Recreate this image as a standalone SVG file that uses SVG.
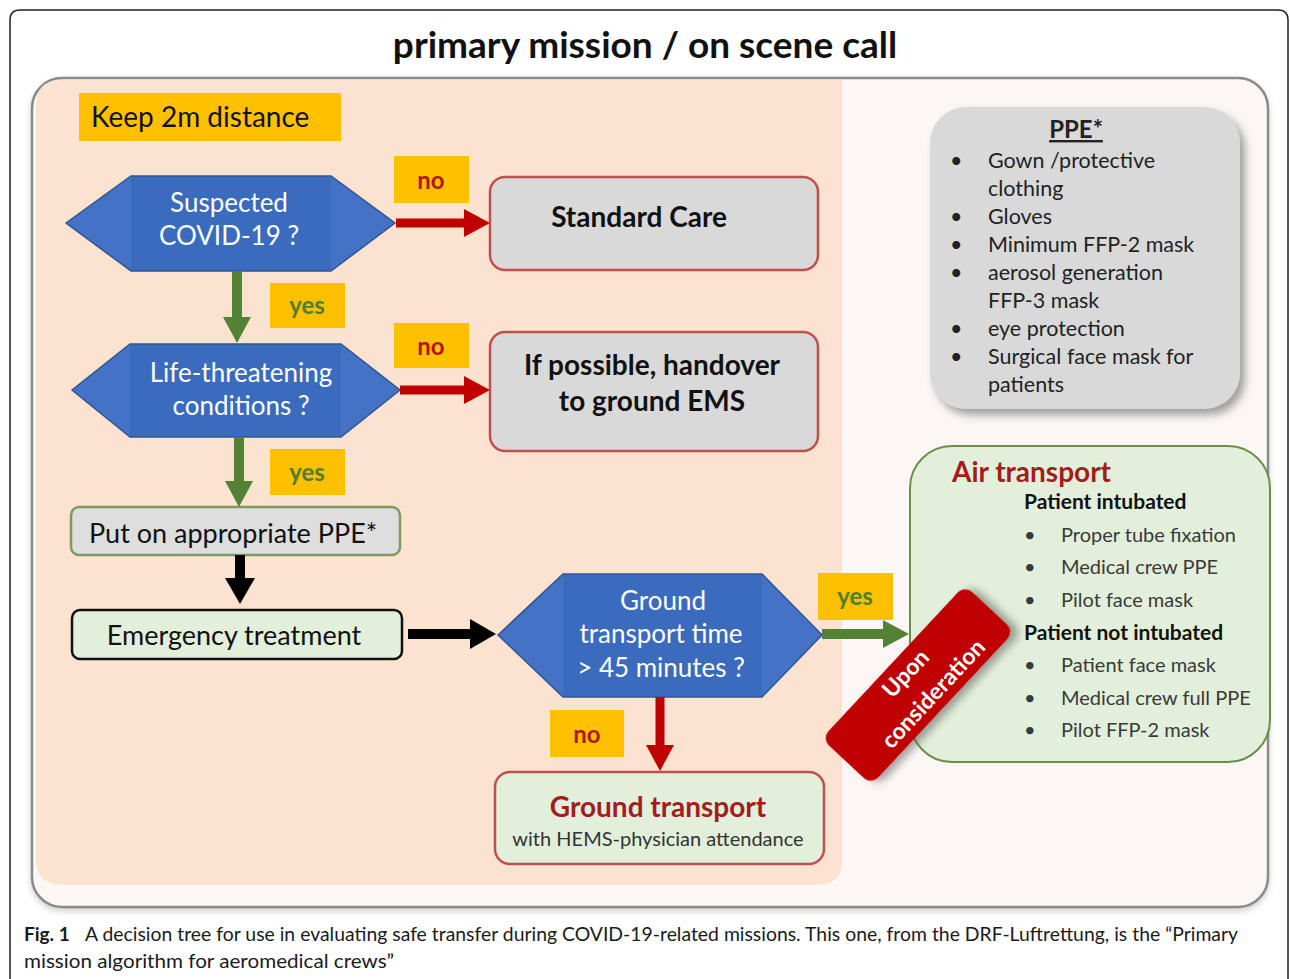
<svg xmlns="http://www.w3.org/2000/svg" width="1290" height="979" viewBox="0 0 1290 979">
<style>
text{font-family:Lato,"Open Sans","Liberation Sans",sans-serif}
.hex{fill:#4472c4;stroke:#2f5597;stroke-width:1.5}
.hexin{fill:#3a6bbd}
.ht{fill:#fff;font-size:26px;text-anchor:middle}
.lab{fill:#ffc000}
.no{fill:#b01818;font-size:24px;font-weight:bold;text-anchor:middle}
.yes{fill:#4f7f2a;font-size:24px;font-weight:bold;text-anchor:middle}
.gray{fill:#d9d9d9;stroke:#c0504d;stroke-width:2.5}
.bt{fill:#111;font-size:28px;font-weight:bold;text-anchor:middle}
.ppe{fill:#222;font-size:21.5px}
.air{fill:#3a3a3a;font-size:20px}
.airb{fill:#111;font-size:21px;font-weight:bold}
.red{stroke:#c00000;stroke-width:9;fill:none}
.grn{stroke:#548235;stroke-width:10;fill:none}
.blk{stroke:#000;stroke-width:10;fill:none}
</style>
<defs>
<marker id="ar" viewBox="0 0 26 28" refX="4" refY="14" markerWidth="26" markerHeight="28" markerUnits="userSpaceOnUse" orient="auto"><path d="M0,0 L26,14 L0,28 z" fill="#c00000"/></marker>
<marker id="ag" viewBox="0 0 26 28" refX="4" refY="14" markerWidth="26" markerHeight="28" markerUnits="userSpaceOnUse" orient="auto"><path d="M0,0 L26,14 L0,28 z" fill="#548235"/></marker>
<marker id="ab" viewBox="0 0 26 30" refX="4" refY="15" markerWidth="26" markerHeight="30" markerUnits="userSpaceOnUse" orient="auto"><path d="M0,0 L26,15 L0,30 z" fill="#000"/></marker>
<filter id="sh" x="-20%" y="-20%" width="140%" height="140%"><feDropShadow dx="5" dy="6" stdDeviation="4" flood-color="#555" flood-opacity="0.55"/></filter>
<filter id="sh2" x="-10%" y="-10%" width="120%" height="120%"><feDropShadow dx="0" dy="3" stdDeviation="3" flood-color="#888" flood-opacity="0.4"/></filter>
</defs>

<rect width="1290" height="979" fill="#fff"/>
<path d="M10,979 L10,20 Q10,10 20,10 L1278,10 Q1288,10 1288,20 L1288,979" fill="none" stroke="#222" stroke-width="1.5"/>

<text x="645" y="58" font-size="37" font-weight="bold" text-anchor="middle" fill="#111">primary mission / on scene call</text>

<g id="background">
<rect x="32" y="78" width="1236" height="829" rx="30" fill="#fcf7f5" stroke="#8a8a8a" stroke-width="2.5" filter="url(#sh2)"/>
<path d="M62,80 L842,80 L842,860 Q842,885 817,885 L63,885 Q36,885 36,858 L36,106 Q36,80 62,80 z" fill="#fce3cf"/>
</g>

<g id="n-keep">
<rect x="79" y="93" width="262" height="48" fill="#ffc000"/>
<text x="91" y="127" font-size="28" fill="#111">Keep 2m distance</text>
</g>

<g id="n-suspected">
<polygon class="hex" points="66,223 131,176 331,176 395,223 331,271 131,271"/>
<rect class="hexin" x="131" y="177" width="200" height="93"/>
<text class="ht" x="229" y="212">Suspected</text>
<text class="ht" x="229" y="245">COVID-19 ?</text>
</g>

<g id="n-standard">
<rect class="gray" x="490" y="177" width="328" height="93" rx="15"/>
<text class="bt" x="639" y="227">Standard Care</text>
</g>

<g id="n-life">
<polygon class="hex" points="72,390 130,344 341,344 400,390 341,437 130,437"/>
<rect class="hexin" x="130" y="345" width="211" height="91"/>
<text class="ht" x="241" y="382">Life-threatening</text>
<text class="ht" x="241" y="415">conditions ?</text>
</g>

<g id="n-handover">
<rect class="gray" x="490" y="332" width="328" height="119" rx="15"/>
<text class="bt" x="652" y="375">If possible, handover</text>
<text class="bt" x="652" y="411">to ground EMS</text>
</g>

<g id="n-put-ppe">
<rect x="71" y="507" width="329" height="48" rx="8" fill="#dedede" stroke="#7e9a62" stroke-width="2.5"/>
<text x="89" y="543" font-size="27" fill="#111">Put on appropriate  PPE*</text>
</g>

<g id="n-emergency">
<rect x="72" y="610" width="330" height="49" rx="8" fill="#e2efda" stroke="#111" stroke-width="2.5"/>
<text x="234" y="645" font-size="27" fill="#111" text-anchor="middle">Emergency  treatment</text>
</g>

<g id="n-ground-q">
<polygon class="hex" points="498,635 563,574 762,574 822,635 762,697 563,697"/>
<rect class="hexin" x="563" y="575" width="199" height="121"/>
<text class="ht" x="663" y="610">Ground</text>
<text class="ht" x="661" y="643">transport time</text>
<text class="ht" x="661" y="677">&gt; 45 minutes ?</text>
</g>

<g id="n-ground">
<rect x="495" y="772" width="329" height="92" rx="15" fill="#e2efda" stroke="#c0504d" stroke-width="2.5"/>
<text x="658" y="817" font-size="28" font-weight="bold" fill="#a51c1c" text-anchor="middle">Ground transport</text>
<text x="658" y="846" font-size="20" fill="#333" text-anchor="middle">with HEMS-physician attendance</text>
</g>

<g id="n-ppe-list">
<rect x="930" y="107" width="310" height="302" rx="36" fill="#d9d9d9" filter="url(#sh)"/>
<text x="1076" y="138" font-size="24" font-weight="bold" fill="#222" text-anchor="middle" text-decoration="underline">PPE*</text>
<g class="ppe">
<text x="950" y="168">•</text><text x="988" y="168">Gown /protective</text>
<text x="988" y="196">clothing</text>
<text x="950" y="224">•</text><text x="988" y="224">Gloves</text>
<text x="950" y="252">•</text><text x="988" y="252">Minimum FFP-2 mask</text>
<text x="950" y="280">•</text><text x="988" y="280">aerosol generation</text>
<text x="988" y="308">FFP-3 mask</text>
<text x="950" y="336">•</text><text x="988" y="336">eye protection</text>
<text x="950" y="364">•</text><text x="988" y="364">Surgical face mask for</text>
<text x="988" y="392">patients</text>
</g>
</g>

<g id="n-air">
<rect x="910" y="446" width="360" height="316" rx="42" fill="#e2efda" stroke="#6a8f4a" stroke-width="2"/>
<text x="952" y="482" font-size="28" font-weight="bold" fill="#a51c1c">Air transport</text>
<text class="airb" x="1024" y="509">Patient intubated</text>
<g class="air">
<text x="1024" y="542">•</text><text x="1061" y="542">Proper  tube fixation</text>
<text x="1024" y="574">•</text><text x="1061" y="574">Medical  crew   PPE</text>
<text x="1024" y="607">•</text><text x="1061" y="607">Pilot face mask</text>
</g>
<text class="airb" x="1024" y="640">Patient not intubated</text>
<g class="air">
<text x="1024" y="672">•</text><text x="1061" y="672">Patient face mask</text>
<text x="1024" y="705">•</text><text x="1061" y="705">Medical  crew full PPE</text>
<text x="1024" y="737">•</text><text x="1061" y="737">Pilot FFP-2 mask</text>
</g>
</g>

<g id="n-upon" transform="translate(918,685) rotate(-47)">
<rect x="-105" y="-34" width="210" height="68" rx="10" fill="#c00000" filter="url(#sh)"/>
<text x="0" y="-9" font-size="23" font-weight="bold" fill="#fff" text-anchor="middle">Upon</text>
<text x="4" y="25" font-size="23" font-weight="bold" fill="#fff" text-anchor="middle">consideration</text>
</g>

<g id="connectors">
<line class="red" x1="396" y1="223" x2="468" y2="223" marker-end="url(#ar)"/>
<line class="red" x1="400" y1="390" x2="468" y2="390" marker-end="url(#ar)"/>
<line class="grn" x1="237" y1="271" x2="237" y2="321" marker-end="url(#ag)"/>
<line class="grn" x1="239" y1="437" x2="239" y2="485" marker-end="url(#ag)"/>
<line class="blk" x1="240" y1="555" x2="240" y2="582" marker-end="url(#ab)"/>
<line class="blk" x1="408" y1="634" x2="474" y2="634" marker-end="url(#ab)"/>
<line class="grn" x1="822" y1="634" x2="887" y2="634" marker-end="url(#ag)"/>
<line class="red" x1="660" y1="697" x2="660" y2="749" marker-end="url(#ar)"/>
<g id="labels">
<rect class="lab" x="394" y="156" width="75" height="47"/><text class="no" x="431" y="189">no</text>
<rect class="lab" x="270" y="283" width="75" height="45"/><text class="yes" x="307" y="314">yes</text>
<rect class="lab" x="394" y="323" width="75" height="45"/><text class="no" x="431" y="355">no</text>
<rect class="lab" x="270" y="449" width="75" height="46"/><text class="yes" x="307" y="481">yes</text>
<rect class="lab" x="818" y="573" width="75" height="47"/><text class="yes" x="855" y="605">yes</text>
<rect class="lab" x="550" y="710" width="74" height="47"/><text class="no" x="587" y="743">no</text>
</g>
</g>

<g id="caption">
<text x="24" y="941" font-family="'Open Sans',sans-serif" font-size="19" font-weight="bold" fill="#1a1a1a">Fig. 1</text>
<text x="85" y="941" font-family="'Open Sans',sans-serif" font-size="19" fill="#1a1a1a" textLength="1153" lengthAdjust="spacingAndGlyphs">A decision tree for use in evaluating safe transfer during COVID-19-related missions. This one, from the DRF-Luftrettung, is the “Primary</text>
<text x="24" y="968" font-family="'Open Sans',sans-serif" font-size="19" fill="#1a1a1a" textLength="370" lengthAdjust="spacingAndGlyphs">mission algorithm for aeromedical crews”</text>
</g>
</svg>
